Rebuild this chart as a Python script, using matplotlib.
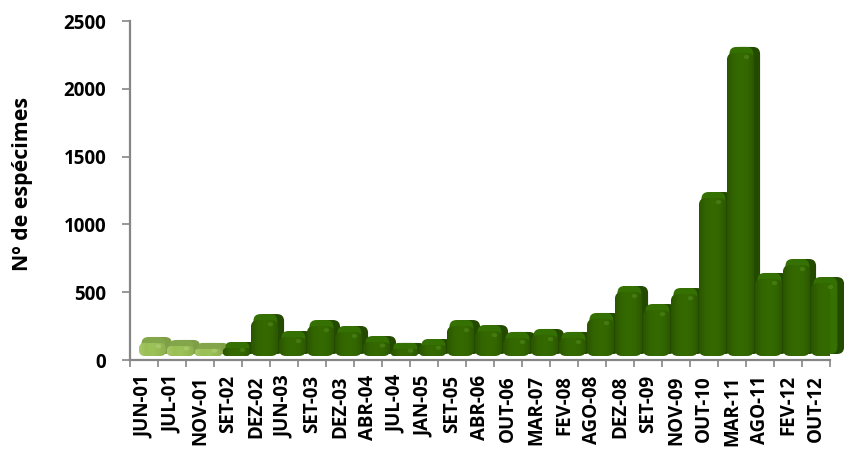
import numpy as np
import matplotlib
matplotlib.use("Agg")
import matplotlib.pyplot as plt
from matplotlib.patches import FancyBboxPatch, Ellipse
from matplotlib.transforms import ScaledTranslation
from matplotlib.colors import LinearSegmentedColormap

categories = ["JUN-01","JUL-01","NOV-01","SET-02","DEZ-02","JUN-03","SET-03","DEZ-03","ABR-04",
              "JUL-04","JAN-05","SET-05","ABR-06","OUT-06","MAR-07","FEV-08","AGO-08","DEZ-08",
              "SET-09","NOV-09","OUT-10","MAR-11","AGO-11","FEV-12","OUT-12"]
values = [96,74,52,59,265,140,221,177,103,52,81,221,184,133,155,133,273,472,339,457,1165,2235,568,671,538]
light_count = 3
y_ticks = [0,500,1000,1500,2000,2500]
y_label = "Nº de espécimes"

plt.rcParams['font.family'] = ['Open Sans', 'DejaVu Sans']
plt.rcParams['font.weight'] = 'bold'

W, H = 845, 450
fig = plt.figure(figsize=(W/100, H/100), dpi=100)
L, R, T, B = 130, 830, 21, 360
ax = fig.add_axes([L/W, 1-B/H, (R-L)/W, (B-T)/H])
ax.set_xlim(-0.5, 24.5)
ax.set_ylim(0, 2500)

pxx = (R-L)/25
pxy = (B-T)/2500
aspect = pxx/pxy
def tr(dx, dy):
    return ax.transData + ScaledTranslation(dx/100, dy/100, fig.dpi_scale_trans)

front_cmap_d = LinearSegmentedColormap.from_list("d", ["#2a5500","#336600","#356a00","#336600","#2a5500"])
front_cmap_l = LinearSegmentedColormap.from_list("l", ["#a8c868","#99bf55","#9cc25a","#95ba52","#8aad4c"])
w = 0.97
under = 4/pxy
for i, v in enumerate(values):
    is_light = i < light_count
    side = "#7f9e48" if is_light else "#244a00"
    top = "#84a64a" if is_light else "#357002"
    x0 = i - w/2
    r = min(0.25, 0.45*v*pxy/pxx)
    style = f"round,pad=0,rounding_size={r:.3f}"
    rb = min(0.25, 0.45*(v+under)*pxy/pxx)
    style_b = f"round,pad=0,rounding_size={rb:.3f}"
    ax.add_patch(FancyBboxPatch((x0, -under), w, v+under, boxstyle=style_b, mutation_aspect=aspect,
                                fc=side, ec="none", transform=tr(14.5, 10), zorder=3+i, clip_on=False))
    ax.add_patch(FancyBboxPatch((x0, -under), w*0.88, v+under, boxstyle=style_b, mutation_aspect=aspect,
                                fc=top, ec="none", transform=tr(11, 10), zorder=3+i, clip_on=False))
    face = FancyBboxPatch((x0, 0), w, v, boxstyle=style, mutation_aspect=aspect,
                          fc="none", ec="none", transform=tr(8.5, 4), zorder=3+i, clip_on=False)
    ax.add_patch(face)
    img = ax.imshow(np.linspace(0, 1, 64).reshape(1, -1), cmap=front_cmap_l if is_light else front_cmap_d,
                    extent=(x0, x0+w, 0, v), aspect="auto", transform=tr(8.5, 4), zorder=3+i, clip_on=True)
    img.set_clip_path(face)
    ax.add_patch(Ellipse((x0+w*0.72, v-min(30, v*0.25)), 0.2, 30,
                         fc="#c6dc94" if is_light else "#5f9a2a", ec="none", alpha=0.4,
                         transform=tr(8.5, 4), zorder=3+i, clip_on=False))

ax.set_xlim(-0.5, 24.5)
ax.set_ylim(0, 2500)
for s in ("top", "right"):
    ax.spines[s].set_visible(False)
for s in ("left", "bottom"):
    ax.spines[s].set_color("#868686")
    ax.spines[s].set_linewidth(1.6)
    ax.spines[s].set_zorder(1)
ax.set_yticks(y_ticks)
ax.set_yticklabels([str(t) for t in y_ticks], fontsize=13.5, fontweight="bold")
ax.tick_params(axis="y", length=6, width=1.2, color="#868686", pad=11)
ax.set_xticks(np.arange(-0.5, 25, 1))
ax.set_xticklabels([])
ax.tick_params(axis="x", which="major", length=5, width=1.2, color="#868686")
ax.set_xticks(np.arange(25), minor=True)
ax.set_xticklabels(categories, minor=True, rotation=90, fontsize=13.5, fontweight="bold", va="top", ha="center")
ax.tick_params(axis="x", which="minor", length=0, pad=11)
ax.set_ylabel(y_label, fontsize=15.4, fontweight="bold")
ax.yaxis.set_label_coords((33-L)/(R-L), (B-184)/(B-T))
fig.savefig("out.png", dpi=100)
